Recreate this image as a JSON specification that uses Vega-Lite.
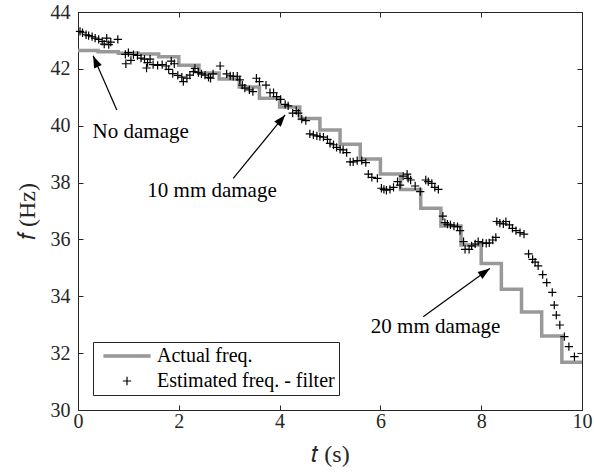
{
  "$schema": "https://vega.github.io/schema/vega-lite/v6.json",
  "width": 504,
  "height": 398,
  "autosize": {"type": "none"},
  "padding": {"left": 78, "top": 12, "right": 12, "bottom": 63},
  "config": {
    "view": {"stroke": "#262626", "strokeWidth": 1},
    "font": "Liberation Serif",
    "axis": {
      "labelFont": "Liberation Serif", "labelFontSize": 20, "labelColor": "#262626", "labelFlush": false,
      "titleFont": "Liberation Serif", "titleFontSize": 24, "titleFontWeight": "normal", "titleColor": "#262626",
      "domainColor": "#262626", "tickColor": "#262626", "grid": false, "tickSize": -5, "domainWidth": 1, "tickWidth": 1
    },
    "legend": {
      "title": null, "orient": "bottom-left", "offset": 15, "padding": 4, "symbolOffset": 6, "labelOffset": 6,
      "rowPadding": 5, "clipHeight": 20, "symbolSize": 2116, "symbolStrokeWidth": 1.2,
      "labelFont": "Liberation Serif", "labelFontSize": 20, "labelColor": "#000000",
      "strokeColor": "#262626", "fillColor": "#ffffff", "labelLimit": 400
    }
  },
  "layer": [
    {
      "layer": [
        {
          "data": {"values": [
            {"t": 0.0, "f": 42.65}, {"t": 0.4, "f": 42.6}, {"t": 0.8, "f": 42.55}, {"t": 1.2, "f": 42.52},
            {"t": 1.6, "f": 42.43}, {"t": 2.0, "f": 42.13}, {"t": 2.4, "f": 41.85}, {"t": 2.8, "f": 41.64},
            {"t": 3.2, "f": 41.36}, {"t": 3.6, "f": 40.97}, {"t": 4.0, "f": 40.66}, {"t": 4.4, "f": 40.25},
            {"t": 4.8, "f": 39.85}, {"t": 5.2, "f": 39.35}, {"t": 5.6, "f": 38.83}, {"t": 6.0, "f": 38.3},
            {"t": 6.4, "f": 37.76}, {"t": 6.8, "f": 37.1}, {"t": 7.2, "f": 36.47}, {"t": 7.6, "f": 35.8},
            {"t": 8.0, "f": 35.15}, {"t": 8.4, "f": 34.25}, {"t": 8.8, "f": 33.45}, {"t": 9.2, "f": 32.6},
            {"t": 9.6, "f": 31.68}, {"t": 10.0, "f": 31.68}
          ]},
          "mark": {"type": "line", "interpolate": "step-after", "stroke": "#999999", "strokeWidth": 3.5},
          "encoding": {
            "x": {"field": "t", "type": "quantitative", "scale": {"domain": [0, 10], "nice": false},
                  "axis": {"values": [0, 2, 4, 6, 8, 10], "title": "𝑡 (s)", "labelPadding": 6, "titlePadding": 11,
                           "labelFont": "Liberation Serif", "labelFontSize": 20, "titleFont": "Liberation Serif", "titleFontSize": 24, "labelFlush": false}},
            "y": {"field": "f", "type": "quantitative", "scale": {"domain": [30, 44], "nice": false, "zero": false},
                  "axis": {"values": [30, 32, 34, 36, 38, 40, 42, 44], "title": "𝑓 (Hz)", "labelPadding": 13, "titlePadding": 11,
                           "labelFont": "Liberation Serif", "labelFontSize": 20, "titleFont": "Liberation Serif", "titleFontSize": 24, "labelFlush": false}}
          }
        },
        {
          "data": {"values": [
            {"t": 0.04, "f": 43.32}, {"t": 0.09, "f": 43.27}, {"t": 0.16, "f": 43.2}, {"t": 0.21, "f": 43.17},
            {"t": 0.28, "f": 43.13}, {"t": 0.34, "f": 43.08}, {"t": 0.41, "f": 43.04}, {"t": 0.48, "f": 42.97},
            {"t": 0.52, "f": 42.87}, {"t": 0.57, "f": 43.08}, {"t": 0.61, "f": 42.85}, {"t": 0.65, "f": 42.94},
            {"t": 0.79, "f": 43.04}, {"t": 0.94, "f": 42.51}, {"t": 0.95, "f": 42.18}, {"t": 1.0, "f": 42.57},
            {"t": 1.05, "f": 42.3}, {"t": 1.1, "f": 42.5}, {"t": 1.18, "f": 42.47}, {"t": 1.25, "f": 42.38},
            {"t": 1.32, "f": 42.34}, {"t": 1.36, "f": 42.03}, {"t": 1.38, "f": 42.22}, {"t": 1.43, "f": 42.34},
            {"t": 1.49, "f": 42.15}, {"t": 1.58, "f": 42.12}, {"t": 1.67, "f": 42.15}, {"t": 1.75, "f": 42.1},
            {"t": 1.8, "f": 41.98}, {"t": 1.85, "f": 42.27}, {"t": 1.88, "f": 41.83}, {"t": 1.91, "f": 42.18},
            {"t": 1.98, "f": 41.77}, {"t": 2.06, "f": 41.71}, {"t": 2.09, "f": 41.55}, {"t": 2.16, "f": 41.67},
            {"t": 2.22, "f": 41.78}, {"t": 2.29, "f": 41.9}, {"t": 2.32, "f": 42.02}, {"t": 2.39, "f": 41.87},
            {"t": 2.45, "f": 41.82}, {"t": 2.52, "f": 41.78}, {"t": 2.59, "f": 41.7}, {"t": 2.63, "f": 41.67},
            {"t": 2.68, "f": 41.82}, {"t": 2.82, "f": 42.1}, {"t": 2.95, "f": 41.82}, {"t": 3.02, "f": 41.75},
            {"t": 3.08, "f": 41.74}, {"t": 3.16, "f": 41.74}, {"t": 3.21, "f": 41.61}, {"t": 3.26, "f": 41.43},
            {"t": 3.31, "f": 41.32}, {"t": 3.4, "f": 41.26}, {"t": 3.47, "f": 41.2}, {"t": 3.54, "f": 41.67},
            {"t": 3.6, "f": 41.55}, {"t": 3.73, "f": 41.43}, {"t": 3.81, "f": 41.16}, {"t": 3.88, "f": 41.16},
            {"t": 3.94, "f": 41.02}, {"t": 4.02, "f": 40.93}, {"t": 4.11, "f": 40.75}, {"t": 4.17, "f": 40.7},
            {"t": 4.26, "f": 40.44}, {"t": 4.33, "f": 40.53}, {"t": 4.37, "f": 40.44}, {"t": 4.44, "f": 40.23},
            {"t": 4.52, "f": 40.18}, {"t": 4.6, "f": 39.71}, {"t": 4.67, "f": 39.68}, {"t": 4.74, "f": 39.64},
            {"t": 4.8, "f": 39.62}, {"t": 4.87, "f": 39.6}, {"t": 4.95, "f": 39.52}, {"t": 5.0, "f": 39.38},
            {"t": 5.07, "f": 39.33}, {"t": 5.13, "f": 39.24}, {"t": 5.2, "f": 39.17}, {"t": 5.26, "f": 39.15},
            {"t": 5.33, "f": 39.05}, {"t": 5.4, "f": 38.73}, {"t": 5.46, "f": 38.73}, {"t": 5.54, "f": 38.77},
            {"t": 5.63, "f": 38.77}, {"t": 5.71, "f": 38.7}, {"t": 5.76, "f": 38.3}, {"t": 5.83, "f": 38.18},
            {"t": 5.94, "f": 38.15}, {"t": 6.02, "f": 37.8}, {"t": 6.07, "f": 37.76}, {"t": 6.12, "f": 37.73},
            {"t": 6.19, "f": 37.76}, {"t": 6.26, "f": 37.83}, {"t": 6.34, "f": 38.03}, {"t": 6.39, "f": 37.91},
            {"t": 6.45, "f": 38.23}, {"t": 6.53, "f": 38.3}, {"t": 6.55, "f": 38.15}, {"t": 6.6, "f": 38.09},
            {"t": 6.69, "f": 37.88}, {"t": 6.79, "f": 37.68}, {"t": 6.9, "f": 38.09}, {"t": 6.95, "f": 38.03},
            {"t": 7.02, "f": 37.97}, {"t": 7.08, "f": 37.83}, {"t": 7.15, "f": 37.76}, {"t": 7.24, "f": 36.82},
            {"t": 7.28, "f": 36.59}, {"t": 7.33, "f": 36.54}, {"t": 7.39, "f": 36.51}, {"t": 7.46, "f": 36.47},
            {"t": 7.53, "f": 36.45}, {"t": 7.58, "f": 36.31}, {"t": 7.65, "f": 35.92}, {"t": 7.68, "f": 35.65},
            {"t": 7.76, "f": 35.65}, {"t": 7.81, "f": 35.77}, {"t": 7.88, "f": 35.84}, {"t": 7.94, "f": 35.92},
            {"t": 8.03, "f": 35.88}, {"t": 8.1, "f": 35.86}, {"t": 8.16, "f": 35.88}, {"t": 8.23, "f": 35.98},
            {"t": 8.29, "f": 36.07}, {"t": 8.31, "f": 36.63}, {"t": 8.37, "f": 36.57}, {"t": 8.44, "f": 36.55},
            {"t": 8.49, "f": 36.63}, {"t": 8.56, "f": 36.51}, {"t": 8.62, "f": 36.39}, {"t": 8.69, "f": 36.31},
            {"t": 8.77, "f": 36.24}, {"t": 8.85, "f": 36.19}, {"t": 8.94, "f": 35.49}, {"t": 9.02, "f": 35.3},
            {"t": 9.07, "f": 35.2}, {"t": 9.13, "f": 35.07}, {"t": 9.22, "f": 34.76}, {"t": 9.3, "f": 34.48},
            {"t": 9.41, "f": 34.14}, {"t": 9.45, "f": 33.69}, {"t": 9.49, "f": 33.34}, {"t": 9.56, "f": 32.99},
            {"t": 9.65, "f": 32.58}, {"t": 9.74, "f": 32.23}, {"t": 9.85, "f": 31.88}
          ]},
          "mark": {"type": "point", "filled": true, "size": 2116, "strokeWidth": 1.2, "opacity": 1},
          "encoding": {
            "x": {"field": "t", "type": "quantitative"},
            "y": {"field": "f", "type": "quantitative"},
            "shape": {"datum": "Estimated freq. - filter", "type": "nominal",
                      "scale": {"domain": ["Actual freq.", "Estimated freq. - filter"],
                                "range": ["M-1,-0.05L1,-0.05L1,0.05L-1,0.05Z", "M-0.18,0L0.18,0M0,-0.18L0,0.18"]}},
            "fill": {"datum": "Estimated freq. - filter", "type": "nominal",
                     "scale": {"domain": ["Actual freq.", "Estimated freq. - filter"], "range": ["#999999", "#000000"]}},
            "stroke": {"datum": "Estimated freq. - filter", "type": "nominal",
                       "scale": {"domain": ["Actual freq.", "Estimated freq. - filter"], "range": ["#999999", "#000000"]}}
          }
        },
        {
          "data": {"values": [
            {"t": 0.77, "f": 40.55, "t2": 0.30, "f2": 42.46},
            {"t": 3.08, "f": 38.15, "t2": 4.11, "f2": 40.38},
            {"t": 6.85, "f": 33.28, "t2": 8.17, "f2": 34.98}
          ]},
          "mark": {"type": "rule", "color": "#000000", "strokeWidth": 1.2},
          "encoding": {
            "x": {"field": "t", "type": "quantitative"},
            "y": {"field": "f", "type": "quantitative"},
            "x2": {"field": "t2"},
            "y2": {"field": "f2"}
          }
        },
        {
          "data": {"values": [{"t": 0.30, "f": 42.46}]},
          "mark": {"type": "point", "shape": "M0,0L-0.35,1L0.35,1Z", "size": 576, "angle": 336.4, "filled": true, "color": "#000000", "opacity": 1},
          "encoding": {"x": {"field": "t", "type": "quantitative"}, "y": {"field": "f", "type": "quantitative"}}
        },
        {
          "data": {"values": [{"t": 4.11, "f": 40.38}]},
          "mark": {"type": "point", "shape": "M0,0L-0.35,1L0.35,1Z", "size": 576, "angle": 39.3, "filled": true, "color": "#000000", "opacity": 1},
          "encoding": {"x": {"field": "t", "type": "quantitative"}, "y": {"field": "f", "type": "quantitative"}}
        },
        {
          "data": {"values": [{"t": 8.17, "f": 34.98}]},
          "mark": {"type": "point", "shape": "M0,0L-0.35,1L0.35,1Z", "size": 576, "angle": 54.0, "filled": true, "color": "#000000", "opacity": 1},
          "encoding": {"x": {"field": "t", "type": "quantitative"}, "y": {"field": "f", "type": "quantitative"}}
        },
        {
          "data": {"values": [
            {"t": 0.29, "f": 39.58, "label": "No damage"},
            {"t": 1.375, "f": 37.5, "label": "10 mm damage"},
            {"t": 5.81, "f": 32.72, "label": "20 mm damage"}
          ]},
          "mark": {"type": "text", "font": "Liberation Serif", "fontSize": 21, "align": "left", "baseline": "alphabetic", "color": "#000000"},
          "encoding": {
            "x": {"field": "t", "type": "quantitative"},
            "y": {"field": "f", "type": "quantitative"},
            "text": {"field": "label"}
          }
        }
      ]
    },
    {
      "data": {"values": [{"t": 0, "f": 30}]},
      "mark": {"type": "point", "opacity": 0},
      "encoding": {
        "x": {"field": "t", "type": "quantitative", "scale": {"domain": [0, 10], "nice": false},
              "axis": {"orient": "top", "values": [0, 2, 4, 6, 8, 10], "labels": false, "domain": false, "title": null}},
        "y": {"field": "f", "type": "quantitative", "scale": {"domain": [30, 44], "nice": false, "zero": false},
              "axis": {"orient": "right", "values": [30, 32, 34, 36, 38, 40, 42, 44], "labels": false, "domain": false, "title": null}}
      }
    }
  ],
  "resolve": {"scale": {"x": "independent", "y": "independent"}, "axis": {"x": "independent", "y": "independent"}}
}
